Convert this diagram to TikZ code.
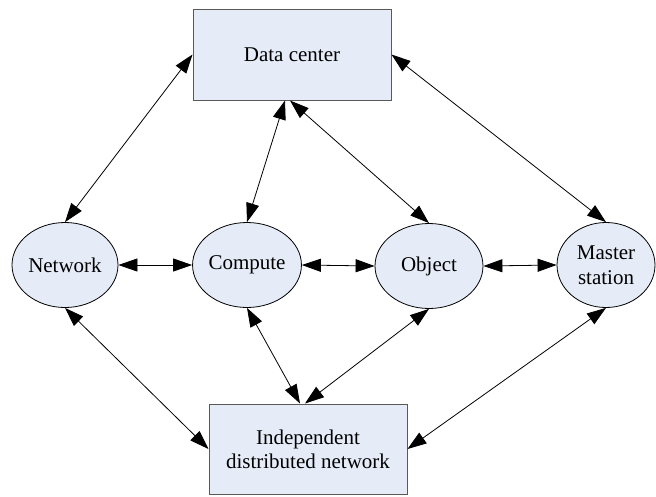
\documentclass[tikz,border=0pt]{standalone}
\usepackage{fontspec}
\setmainfont{Liberation Serif}
\usetikzlibrary{arrows.meta,shapes.geometric}
\definecolor{boxfill}{RGB}{230,236,247}
\tikzset{
  boxnode/.style={draw=black!65, line width=1pt, fill=boxfill, minimum width=198pt, minimum height=91pt, inner sep=0pt, align=center, font=\fontsize{21}{24}\selectfont},
  ellnode/.style={ellipse, draw=black, line width=0.8pt, fill=boxfill, minimum width=106pt, minimum height=85pt, inner sep=0pt, align=center, font=\fontsize{21}{25}\selectfont},
  link/.style={line width=0.8pt, {Triangle[length=19pt,width=13pt]}-{Triangle[length=19pt,width=13pt]}}
}
\begin{document}
\begin{tikzpicture}[x=1pt,y=-1pt]
\useasboundingbox (0,0) rectangle (656,496);
\node[boxnode] (dc) at (292,54.5) {Data center};
\node[boxnode, minimum height=90pt] (idn) at (308,449) {Independent\\distributed network};
\node[ellnode] (net) at (65,265) {Network};
\node[ellnode] (cmp) at (247,265) {Compute};
\node[ellnode, minimum width=108pt] (obj) at (429,266) {Object};
\node[ellnode, minimum width=98pt] (mst) at (606,265) {Master\\station};
\draw[link] (net.north) -- (dc.west);
\draw[link] ([xshift=-7pt]dc.south) -- (cmp.north);
\draw[link] ([xshift=-2pt]dc.south) -- (obj.north);
\draw[link] (dc.east) -- (mst.north);
\draw[link] (net.east) -- (cmp.west);
\draw[link] (cmp.east) -- (obj.west);
\draw[link] (obj.east) -- (mst.west);
\draw[link] (net.south) -- (idn.west);
\draw[link] (cmp.south) -- ([xshift=-8pt]idn.north);
\draw[link] (obj.south) -- ([xshift=-3pt]idn.north);
\draw[link] (mst.south) -- (idn.east);
\end{tikzpicture}
\end{document}
